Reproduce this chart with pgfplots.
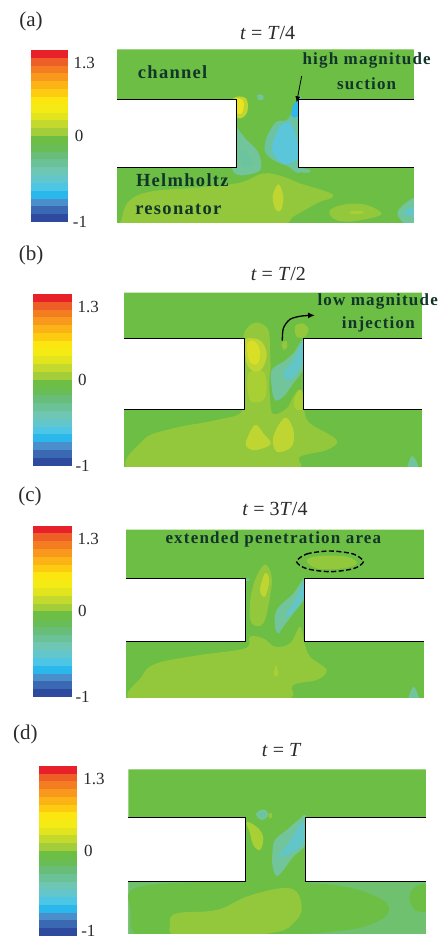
\documentclass[border=0pt]{standalone}
\usepackage{pgfplots}
\pgfplotsset{compat=1.18}
\usepackage{fontspec}
\setmainfont{Liberation Serif}
\newfontfamily\annot[LetterSpace=7]{Liberation Serif Bold}
\usetikzlibrary{arrows.meta}
\definecolor{annotc}{HTML}{12352A}
\definecolor{txt}{HTML}{2A2A2A}
\definecolor{G}{HTML}{6DBE45}
\definecolor{L}{HTML}{93C83C}
\definecolor{LL}{HTML}{A8D035}
\definecolor{Y}{HTML}{BFD632}
\definecolor{YY}{HTML}{EBE520}
\definecolor{YM}{HTML}{D8DF26}
\definecolor{T}{HTML}{72C49A}
\definecolor{TT}{HTML}{6CC3A0}
\definecolor{TD}{HTML}{6FC170}
\definecolor{B}{HTML}{62C5C8}
\definecolor{BL}{HTML}{5BC5DA}
\definecolor{BB}{HTML}{35B6E8}
\definecolor{cb0}{HTML}{E8202A}
\definecolor{cb1}{HTML}{EE5E27}
\definecolor{cb2}{HTML}{F37D20}
\definecolor{cb3}{HTML}{F8991D}
\definecolor{cb4}{HTML}{FBB316}
\definecolor{cb5}{HTML}{FDCB10}
\definecolor{cb6}{HTML}{FBE70F}
\definecolor{cb7}{HTML}{F4EB14}
\definecolor{cb8}{HTML}{E2E41D}
\definecolor{cb9}{HTML}{C3D92D}
\definecolor{cb10}{HTML}{A3CE39}
\definecolor{cb11}{HTML}{6DBE45}
\definecolor{cb12}{HTML}{6ABD55}
\definecolor{cb13}{HTML}{68BE78}
\definecolor{cb14}{HTML}{6BC296}
\definecolor{cb15}{HTML}{6FC6B2}
\definecolor{cb16}{HTML}{62C6CB}
\definecolor{cb17}{HTML}{4DC5E4}
\definecolor{cb18}{HTML}{2AB8EC}
\definecolor{cb19}{HTML}{4A8FCB}
\definecolor{cb20}{HTML}{3A68B2}
\definecolor{cb21}{HTML}{2E4A9F}
\newcommand\cbar[4]{%
  \pgfmathsetmacro\cbH{(#4-#3)/22}%
  \pgfplotsforeachungrouped \i in {0,...,21}{%
    \pgfmathsetmacro\ya{#3+\i*\cbH}%
    \pgfmathsetmacro\yb{\ya+\cbH+(\i<21)*0.8}%
    \edef\temp{\noexpand\addplot[fill=cb\i,draw=none,forget plot] coordinates {(#1,\ya)(#2,\ya)(#2,\yb)(#1,\yb)} -- cycle;}\temp
  }}
\newcommand\blob[2]{\addplot[fill=#1,draw=none,forget plot,smooth cycle,tension=0.6] coordinates {#2};}
\newcommand\poly[2]{\addplot[fill=#1,draw=none,forget plot] coordinates {#2} -- cycle;}
% x left, neck left, neck right, x right, top, wall, lower, bottom
\newcommand\base[8]{\poly{G}{(#1,#5)(#4,#5)(#4,#6)(#3,#6)(#3,#7)(#4,#7)(#4,#8)(#1,#8)(#1,#7)(#2,#7)(#2,#6)(#1,#6)}}
\newcommand\masks[8]{%
  \poly{white}{(#1,#6)(#2,#6)(#2,#7)(#1,#7)}
  \poly{white}{(#3,#6)(#4,#6)(#4,#7)(#3,#7)}
  \poly{white}{(#1-60,#5-20)(#1,#5-20)(#1,#8+40)(#1-60,#8+40)}
  \poly{white}{(#4,#5-20)(#4+60,#5-20)(#4+60,#8+40)(#4,#8+40)}
  \poly{white}{(#1,#8)(#4,#8)(#4,#8+40)(#1,#8+40)}
}
\newcommand\walls[8]{%
  \addplot[black,line width=1.0pt,forget plot] coordinates {(#1,#6)(#2,#6)(#2,#7)(#1,#7)};
  \addplot[black,line width=1.0pt,forget plot] coordinates {(#4,#6)(#3,#6)(#3,#7)(#4,#7)};
}
\pgfplotsset{panel/.style={scale only axis,hide axis,clip=false,width=441pt,xmin=0,xmax=1323,ymin=0,y dir=reverse,anchor=north west}}
\newcommand\lab[3]{\node[font=\fontsize{17}{17}\selectfont,text=txt,inner sep=0pt] at (axis cs:#1,#2) {#3};}
\newcommand\ann[3]{\node[font=\annot\fontsize{17}{17}\selectfont,text=annotc,inner sep=0pt] at (axis cs:#1,#2) {#3};}
\begin{document}
\begin{tikzpicture}
\useasboundingbox (0,0) rectangle (441pt,-939pt);
\fill[white] (0,0) rectangle (441pt,-939pt);
% ---------- (a)
\begin{axis}[panel,at={(0pt,0pt)},height=240pt,ymax=720]
\cbar{92}{205}{150}{666}
\base{350}{710}{895}{1242}{148}{297}{503}{670}
\blob{L}{(365,660)(385,605)(450,575)(600,562)(720,548)(790,520)(850,530)(900,550)(1000,585)(950,610)(880,650)(840,672)(600,680)(370,680)}
\blob{Y}{(835,553)(850,590)(843,630)(828,630)(818,590)}
\blob{L}{(990,630)(1040,612)(1100,615)(1145,640)(1110,655)(1040,665)(1000,655)}
\blob{LL}{(1050,635)(1085,632)(1090,640)(1055,642)}
\blob{T}{(1195,630)(1260,590)(1260,680)(1210,668)}
\blob{B}{(1210,635)(1260,615)(1260,650)(1225,645)}
\blob{T}{(700,385)(740,420)(770,450)(782,480)(775,515)(700,515)}
\blob{TT}{(725,450)(750,470)(755,495)(725,495)}
\blob{TT}{(805,400)(830,365)(860,360)(880,330)(905,295)(905,505)(860,497)(820,480)(795,455)(797,420)}
\blob{BL}{(818,430)(840,380)(868,368)(885,400)(895,470)(855,492)(822,465)}
\blob{BB}{(880,315)(897,302)(897,345)(882,352)(874,345)}
\blob{T}{(895,503)(930,510)(925,518)(895,515)}
\blob{Y}{(700,295)(738,295)(742,335)(722,355)(700,345)}
\blob{YY}{(705,297)(728,300)(731,322)(722,342)(705,332)}
\blob{T}{(772,285)(788,285)(790,298)(775,300)}
\masks{350}{710}{895}{1242}{148}{297}{503}{670}
\walls{350}{710}{895}{1242}{148}{297}{503}{670}
\lab{93}{63}{\fontsize{21}{21}\selectfont (a)}
\lab{803}{100}{\fontsize{20}{20}\selectfont\textit{t} = \textit{T}/4}
\lab{253}{190}{1.3}\lab{237}{408}{0}\lab{240}{665}{-1}
\ann{1100}{182}{high magnitude}
\ann{1100}{250}{suction}
\ann{518}{217}{\fontsize{18.5}{18.5}\selectfont channel}
\ann{547}{542}{\fontsize{18.5}{18.5}\selectfont Helmholtz}
\ann{535}{628}{\fontsize{18.5}{18.5}\selectfont resonator}
\addplot[black,line width=0.8pt,-{Latex[length=6pt,width=5pt]},forget plot] coordinates {(905,228)(890,307)};
\end{axis}
% ---------- (b)
\begin{axis}[panel,at={(0pt,-240pt)},height=240pt,ymax=720]
\cbar{100}{215}{162}{677}
\base{372}{733}{909}{1266}{158}{294}{508}{682}
\blob{L}{(405,695)(430,600)(520,565)(650,540)(725,515)(733,440)(730,300)(745,260)(775,248)(805,270)(810,330)(812,400)(810,450)(820,520)(860,505)(880,470)(900,450)(912,510)(930,550)(1010,600)(980,630)(900,650)(860,695)}
\blob{LL}{(745,400)(790,395)(800,440)(790,480)(750,480)}
\blob{Y}{(735,300)(760,295)(785,305)(800,340)(790,380)(770,395)(745,380)(735,340)}
\blob{YM}{(742,310)(765,305)(780,335)(772,372)(748,362)}
\blob{Y}{(738,605)(765,555)(790,580)(812,612)(770,630)(745,625)}
\blob{Y}{(820,590)(855,533)(880,570)(875,620)(830,635)}
\blob{G}{(810,400)(835,325)(880,310)(912,290)(912,410)(890,450)(860,480)(820,522)(810,470)}
\blob{T}{(815,390)(850,365)(880,340)(912,297)(912,380)(880,430)(850,470)(825,480)(815,440)}
\blob{B}{(850,400)(880,360)(908,305)(908,370)(870,420)}
\blob{L}{(885,260)(905,250)(925,265)(915,290)(890,290)}
\blob{L}{(845,312)(858,302)(862,320)(852,330)}
\blob{LL}{(885,470)(905,450)(908,505)(885,505)}
\blob{T}{(1222,690)(1235,648)(1252,670)(1252,690)}
\masks{372}{733}{909}{1266}{158}{294}{508}{682}
\walls{372}{733}{909}{1266}{158}{294}{508}{682}
\lab{93}{45}{\fontsize{21}{21}\selectfont (b)}
\lab{835}{103}{\fontsize{20}{20}\selectfont\textit{t} = \textit{T}/2}
\lab{265}{200}{1.3}\lab{247}{420}{0}\lab{248}{678}{-1}
\ann{1133}{183}{low magnitude}
\ann{1135}{253}{injection}
\addplot[black,line width=1.3pt,smooth,-{Latex[length=7pt,width=6pt]},forget plot] coordinates {(847,302)(850,265)(870,238)(905,228)(945,226)};
\end{axis}
% ---------- (c)
\begin{axis}[panel,at={(0pt,-480pt)},height=230pt,ymax=690]
\cbar{100}{215}{137}{651}
\base{378}{735}{914}{1272}{149}{295}{484}{655}
\blob{L}{(410,665)(425,590)(470,550)(600,525)(735,505)(750,470)(790,475)(825,500)(870,490)(900,440)(912,484)(930,530)(980,570)(950,600)(880,615)(835,665)}
\blob{L}{(755,430)(750,370)(765,300)(795,253)(815,290)(810,350)(790,430)}
\blob{Y}{(780,330)(795,280)(808,300)(795,350)}
\blob{T}{(825,440)(830,390)(880,340)(916,292)(916,350)(880,400)(850,440)(835,460)}
\blob{B}{(855,410)(885,360)(912,305)(912,350)(880,395)}
\blob{L}{(920,240)(960,228)(1040,230)(1070,250)(1030,265)(950,265)}
\blob{T}{(1225,665)(1240,620)(1256,650)(1256,665)}
\blob{LL}{(822,580)(828,555)(835,580)(828,590)}
\blob{T}{(736,296)(750,296)(745,303)(738,303)}
\masks{378}{735}{914}{1272}{149}{295}{484}{655}
\walls{378}{735}{914}{1272}{149}{295}{484}{655}
\addplot[black,line width=1.4pt,dash pattern=on 5pt off 2.5pt,forget plot,smooth cycle] coordinates {(890,245)(920,222)(990,213)(1060,222)(1090,245)(1060,266)(990,275)(920,266)};
\lab{90}{50}{\fontsize{21}{21}\selectfont (c)}
\lab{825}{88}{\fontsize{20}{20}\selectfont\textit{t} = 3\textit{T}/4}
\lab{265}{177}{1.3}\lab{247}{393}{0}\lab{248}{650}{-1}
\ann{820}{178}{extended penetration area}
\end{axis}
% ---------- (d)
\begin{axis}[panel,at={(0pt,-710pt)},height=229pt,ymax=687]
\cbar{117}{232}{168}{677}
\base{385}{735}{915}{1279}{178}{322}{513}{672}
\poly{TD}{(385,513)(735,513)(915,513)(1279,513)(1279,672)(385,672)}
\blob{G}{(392,600)(420,530)(735,515)(1000,525)(1130,560)(1168,600)(1120,640)(1000,665)(700,685)(430,685)}
\blob{G}{(1228,560)(1250,528)(1290,528)(1290,600)(1245,600)}
\poly{G}{(735,510)(915,510)(915,560)(735,560)}
\blob{L}{(510,640)(530,610)(650,600)(740,560)(840,535)(890,545)(905,600)(880,640)(835,665)(700,680)(530,680)}
\blob{LL}{(740,335)(775,355)(790,385)(780,420)(760,405)(750,370)}
\blob{T}{(768,312)(790,298)(806,315)(785,330)}
\blob{TT}{(775,312)(790,305)(798,315)(785,322)}
\blob{T}{(817,430)(825,390)(860,360)(895,330)(918,318)(918,400)(880,440)(850,480)(830,498)(818,470)}
\blob{B}{(835,440)(865,400)(908,335)(910,400)(870,430)}
\blob{L}{(806,312)(814,308)(816,322)(808,325)}
\masks{385}{735}{915}{1279}{178}{322}{513}{672}
\walls{385}{735}{915}{1279}{178}{322}{513}{672}
\lab{76}{73}{\fontsize{21}{21}\selectfont (d)}
\lab{845}{120}{\fontsize{20}{20}\selectfont\textit{t} = \textit{T}}
\lab{282}{207}{1.3}\lab{265}{423}{0}\lab{265}{664}{-1}
\end{axis}
\end{tikzpicture}
\end{document}
